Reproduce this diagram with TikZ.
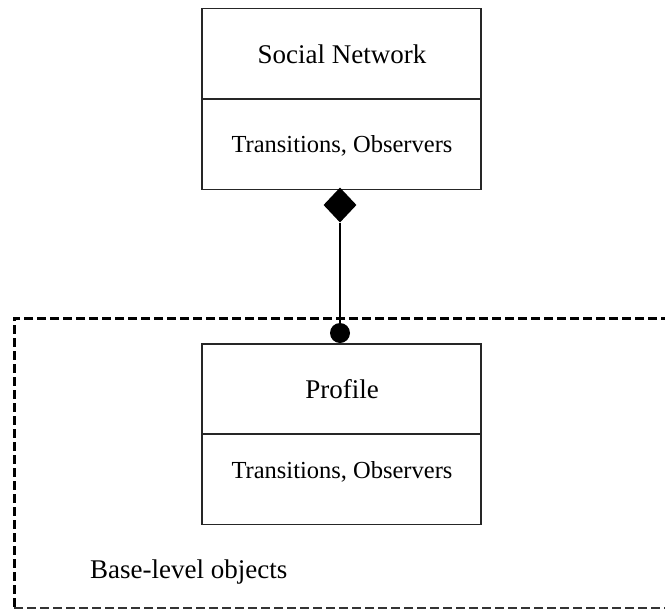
\documentclass[tikz,border=0pt]{standalone}
\usepackage{fontspec}
\setmainfont{Liberation Serif}
\usetikzlibrary{shapes.geometric}
\begin{document}
\begin{tikzpicture}[x=1pt,y=-1pt,
  compart/.style={draw=black!85,line width=1.8pt,minimum width=279pt,minimum height=90.5pt,inner sep=0pt,anchor=north},
  titletext/.style={font=\fontsize{27}{30}\selectfont},
  opstext/.style={font=\fontsize{24.5}{28}\selectfont},
  frame/.style={dash pattern=on 9pt off 4pt,line width=3pt},
  framethin/.style={dash pattern=on 9pt off 4pt,line width=1.6pt,draw=black!80}]
\clip (0,0) rectangle (665,611);
\fill[white] (0,0) rectangle (665,611);
% base-level frame
\draw[frame] (670,318) -- (14,318) -- (14,608);
\draw[framethin] (14,608) -- (670,608);
% Social Network class
\node[compart] (snname) at (341.5,7.5) {};
\node[compart] (snops) at (341.5,98) {};
\node[titletext] (snt) at (342,54) {Social Network};
\node[opstext] (sno) at (342,146) {Transitions, Observers};
% Profile class
\node[compart] (prname) at (341.5,343) {};
\node[compart] (props) at (341.5,433) {};
\node[titletext] (prt) at (342,389) {Profile};
\node[opstext] (pro) at (342,472) {Transitions, Observers};
% composition
\node[diamond,fill,inner sep=0pt,minimum width=33pt,minimum height=35pt] (dia) at (340,205) {};
\node[circle,fill,inner sep=0pt,minimum size=20pt] (dot) at (340,333) {};
\draw[line width=2.4pt] (dia.south) -- (dot.center);
% label
\node[titletext,anchor=base west,inner sep=0pt] (base) at (90,578) {Base-level objects};
\end{tikzpicture}
\end{document}
